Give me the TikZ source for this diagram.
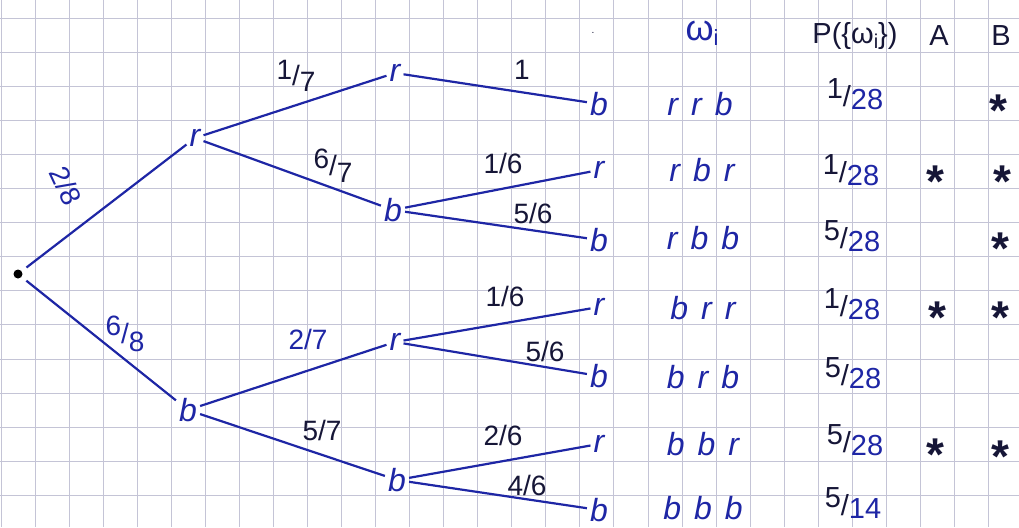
\documentclass[tikz,border=0pt]{standalone}
\usepackage{fontspec}
\setmainfont{Liberation Sans}
\definecolor{ink}{RGB}{30,38,165}
\definecolor{dark}{RGB}{22,22,55}
\definecolor{gridc}{RGB}{196,196,214}
\tikzset{
  gridline/.style={draw=gridc, line width=0.9pt},
  edge/.style={draw=ink, line width=2.2pt},
  vtx/.style={font=\fontsize{32}{34}\selectfont\itshape, text=ink, inner sep=3pt},
  lbl/.style={font=\fontsize{28}{30}\selectfont, text=ink, inner sep=1pt},
  dlbl/.style={lbl, text=dark},
  cell/.style={font=\fontsize{29}{31}\selectfont, text=ink, inner sep=1pt},
  rowtxt/.style={font=\fontsize{32}{34}\selectfont\itshape, text=ink, inner sep=1pt},
  head/.style={font=\fontsize{29}{31}\selectfont, text=dark, inner sep=1pt},
  starmark/.style={font=\fontsize{46}{46}\selectfont\bfseries, text=dark, inner sep=0pt, yshift=-10pt},
}
\newcommand{\gapsp}{\hspace{13pt}}
\begin{document}
\begin{tikzpicture}[x=1pt,y=-1pt]
\useasboundingbox (0,0) rectangle (1019,527);
\fill[white] (0,0) rectangle (1019,527);
% grid paper
\foreach \i in {0,...,29} \draw[gridline] ({1+34.05*\i},0) -- ({1+34.05*\i},527);
\foreach \j in {0,...,15} \draw[gridline] (0,{18+34.1*\j}) -- (1019,{18+34.1*\j});

% tree nodes
\node[circle, fill=black, inner sep=0pt, minimum size=9pt] (root) at (18,274) {};
\node[vtx] (r1) at (195,138) {r};
\node[vtx] (b1) at (188,410) {b};
\node[vtx] (r2) at (395,73) {r};
\node[vtx] (b2) at (393,210) {b};
\node[vtx] (r3) at (395,342) {r};
\node[vtx] (b3) at (397,480) {b};
\node[vtx] (l1) at (599,104) {b};
\node[vtx] (l2) at (599,170) {r};
\node[vtx] (l3) at (599,240) {b};
\node[vtx] (l4) at (599,307) {r};
\node[vtx] (l5) at (599,376) {b};
\node[vtx] (l6) at (599,444) {r};
\node[vtx] (l7) at (599,510) {b};

% connectors
\draw[edge, shorten <=6pt] (root) -- (r1);
\draw[edge, shorten <=6pt] (root) -- (b1);
\draw[edge] (r1) -- (r2);
\draw[edge] (r1) -- (b2);
\draw[edge] (r2) -- (l1);
\draw[edge] (b2) -- (l2);
\draw[edge] (b2) -- (l3);
\draw[edge] (b1) -- (r3);
\draw[edge] (b1) -- (b3);
\draw[edge] (r3) -- (l4);
\draw[edge] (r3) -- (l5);
\draw[edge] (b3) -- (l6);
\draw[edge] (b3) -- (l7);

% branch labels
\node[lbl, rotate=-65] (p1) at (66,186) {2/8};
\node[lbl] (p2) at (125,334) {\raisebox{8pt}{6}/\raisebox{-8pt}{8}};
\node[dlbl] (p3) at (296,76) {\raisebox{6pt}{1}/\raisebox{-6pt}{7}};
\node[dlbl] (p4) at (333,166) {\raisebox{7pt}{6}/\raisebox{-7pt}{7}};
\node[dlbl] (p5) at (522,70) {1};
\node[dlbl] (p6) at (503,163) {1/6};
\node[dlbl] (p7) at (533,213) {5/6};
\node[lbl] (p8) at (308,339) {2/7};
\node[dlbl] (p9) at (322,430) {5/7};
\node[dlbl] (p10) at (505,296) {1/6};
\node[dlbl] (p11) at (545,351) {5/6};
\node[dlbl] (p12) at (503,435) {2/6};
\node[dlbl] (p13) at (527,485) {4/6};

% table header
\node[dark, inner sep=1pt] (dot) at (593,33) {.};
\node[cell] (hw) at (702,33) {{\fontsize{36}{38}\selectfont ω}\raisebox{-5pt}{\fontsize{22}{24}\selectfont i}};
\node[head] (hp) at (855,36) {P(\{ω\raisebox{-5pt}{\fontsize{20}{22}\selectfont i}\})};
\node[head] (ha) at (939,36) {A};
\node[head] (hb) at (1001,36) {B};

% outcomes
\node[rowtxt] (w1) at (700,104) {r\gapsp r\gapsp b};
\node[rowtxt] (w2) at (702,170) {r\gapsp b\gapsp r};
\node[rowtxt] (w3) at (703,238) {r\gapsp b\gapsp b};
\node[rowtxt] (w4) at (703,308) {b\gapsp r\gapsp r};
\node[rowtxt] (w5) at (703,377) {b\gapsp r\gapsp b};
\node[rowtxt] (w6) at (703,444) {b\gapsp b\gapsp r};
\node[rowtxt] (w7) at (703,508) {b\gapsp b\gapsp b};

% probabilities
\node[cell] (q1) at (855,94) {\textcolor{dark}{\raisebox{8pt}{1}/}\raisebox{-3pt}{28}};
\node[cell] (q2) at (851,170) {\textcolor{dark}{\raisebox{8pt}{1}/}\raisebox{-3pt}{28}};
\node[cell] (q3) at (852,236) {\textcolor{dark}{\raisebox{8pt}{5}/}\raisebox{-3pt}{28}};
\node[cell] (q4) at (852,304) {\textcolor{dark}{\raisebox{8pt}{1}/}\raisebox{-3pt}{28}};
\node[cell] (q5) at (853,373) {\textcolor{dark}{\raisebox{8pt}{5}/}\raisebox{-3pt}{28}};
\node[cell] (q6) at (855,440) {\textcolor{dark}{\raisebox{8pt}{5}/}\raisebox{-3pt}{28}};
\node[cell] (q7) at (853,503) {\textcolor{dark}{\raisebox{8pt}{5}/}\raisebox{-3pt}{14}};

% event marks
\node[starmark] (b1s) at (998,101) {*};
\node[starmark] (a2s) at (935,172) {*};
\node[starmark] (b2s) at (1002,172) {*};
\node[starmark] (b3s) at (1000,239) {*};
\node[starmark] (a4s) at (937,308) {*};
\node[starmark] (b4s) at (1000,308) {*};
\node[starmark] (a6s) at (935,445) {*};
\node[starmark] (b6s) at (1000,447) {*};
\end{tikzpicture}
\end{document}
